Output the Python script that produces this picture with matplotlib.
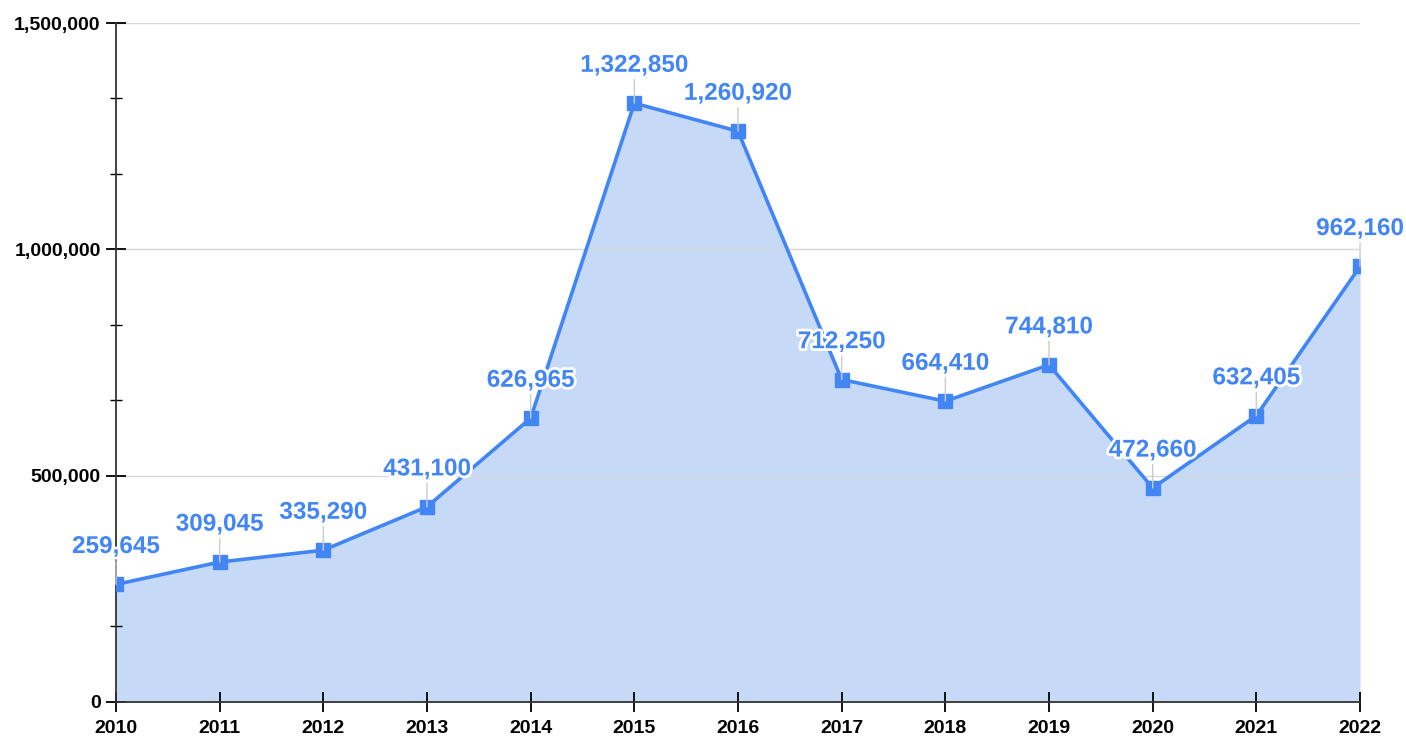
import matplotlib.pyplot as plt
import matplotlib.patheffects as pe
from matplotlib.ticker import FuncFormatter, MultipleLocator

years = [2010, 2011, 2012, 2013, 2014, 2015, 2016, 2017, 2018, 2019, 2020, 2021, 2022]
values = [259645, 309045, 335290, 431100, 626965, 1322850, 1260920,
          712250, 664410, 744810, 472660, 632405, 962160]

line_color = '#4285F4'
fill_color = '#C6DAF8'

plt.rcParams['font.family'] = ['Liberation Sans', 'DejaVu Sans']

fig = plt.figure(figsize=(14.06, 7.42), dpi=100)
ax = fig.add_axes([0.0825, 0.054, 0.8848, 0.915])

ax.fill_between(years, values, 0, color=fill_color, lw=0, zorder=1)
ax.plot(years, values, color=line_color, lw=2.6, zorder=3)
ax.plot(years, values, ls='none', marker='s', markersize=10,
        markerfacecolor=line_color, markeredgecolor=line_color, zorder=4)

ax.set_xlim(2010, 2022)
ax.set_ylim(0, 1500000)
ax.set_xticks(years)
ax.yaxis.set_major_locator(MultipleLocator(500000))
ax.yaxis.set_minor_locator(MultipleLocator(500000 / 3))
ax.yaxis.set_major_formatter(FuncFormatter(lambda v, p: f'{int(v):,}'))

ax.grid(axis='y', which='major', color='#d8d8d8', lw=1, zorder=0)
for s in ['top', 'right']:
    ax.spines[s].set_visible(False)
ax.spines['left'].set_color('#333333')
ax.spines['bottom'].set_color('#333333')
ax.spines['left'].set_linewidth(1.3)
ax.spines['bottom'].set_linewidth(1.3)

ax.tick_params(axis='y', which='major', direction='inout', length=14, width=1.3,
               labelsize=14, pad=4)
ax.tick_params(axis='y', which='minor', direction='inout', length=8, width=1)
ax.tick_params(axis='x', direction='inout', length=14, width=1.3,
               labelsize=14, pad=6)
for lbl in ax.get_xticklabels() + ax.get_yticklabels():
    lbl.set_fontweight('bold')

for x, v in zip(years, values):
    ax.annotate(f'{v:,}', xy=(x, v), xytext=(0, 19), textcoords='offset points',
                ha='center', va='bottom', fontsize=17.5, fontweight='bold',
                color=line_color, annotation_clip=False, zorder=5,
                arrowprops=dict(arrowstyle='-', color='#cccccc', lw=1,
                                shrinkA=0, shrinkB=0),
                path_effects=[pe.withStroke(linewidth=4, foreground='white')])

fig.savefig('out.png', dpi=100)
